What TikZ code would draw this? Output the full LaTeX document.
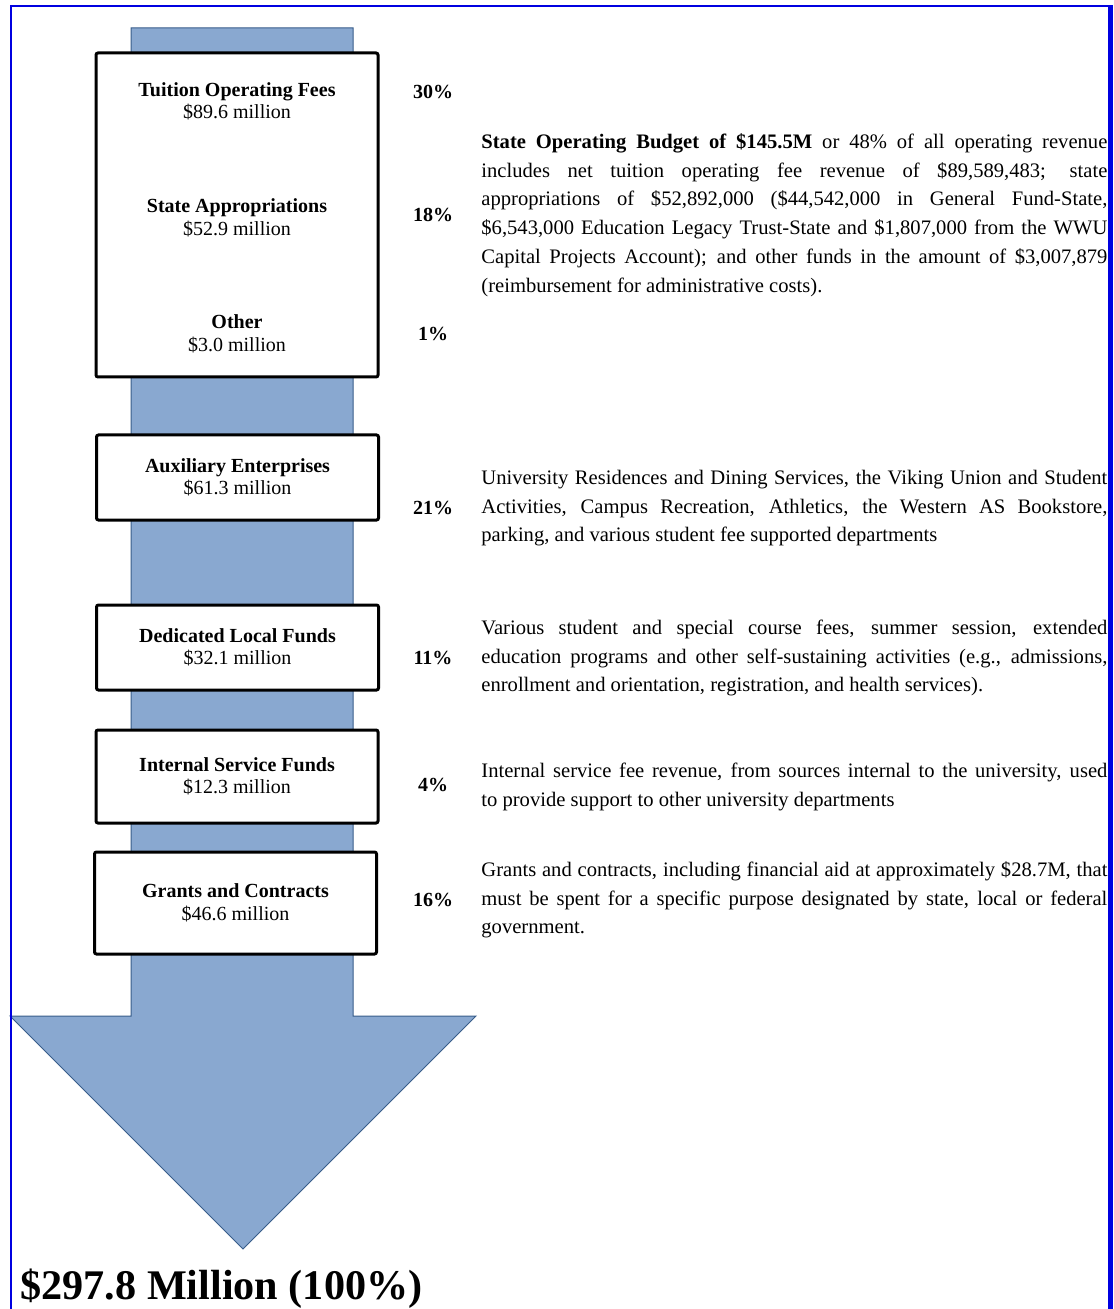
\documentclass[tikz,border=0pt]{standalone}
\usepackage{fontspec}
\setmainfont{Liberation Serif}
\usetikzlibrary{positioning}
\definecolor{frameblue}{RGB}{0,0,224}
\definecolor{flowfill}{RGB}{137,168,208}
\definecolor{flowline}{RGB}{56,93,138}
\newcommand{\notefont}{\fontsize{10.3}{14.4}\selectfont}
\newcommand{\labelfont}{\fontsize{10}{11.25}\selectfont}
\hyphenpenalty=10000
\exhyphenpenalty=10000

\begin{document}
\begin{tikzpicture}[x=0.5pt,y=-0.5pt,
	fund/.style={draw,line width=1.5pt,fill=white,rounded corners=1pt,inner sep=0pt,minimum width=141pt,align=center,font=\labelfont},
	amount/.style={inner sep=0pt,align=center,font=\labelfont},
	share/.style={inner sep=0pt,font=\labelfont\bfseries},
	note/.style={anchor=north west,inner sep=0pt,text width=313pt,align=justify,font=\notefont}]
	\useasboundingbox (0,0) rectangle (1113,1309);
	% the big arrow
	\draw[fill=flowfill,draw=flowline,line width=0.5pt] (131,28) -- (353,28) -- (353,1016) -- (476,1016)
		-- (243,1249) -- (10,1016) -- (131,1016) -- cycle;
	% state operating budget box
	\node[fund,minimum height=162pt] at (237,215) (state) {};
	\node[amount] at (237,101.5) (tuition) {\textbf{Tuition Operating Fees}\\\$89.6 million};
	\node[amount] at (237,218) (approp) {\textbf{State Appropriations}\\\$52.9 million};
	\node[amount] at (237,334) (other) {\textbf{Other}\\\$3.0 million};
	% other funds
	\node[fund,minimum height=42.5pt] at (237.5,477.5) (aux) {\textbf{Auxiliary Enterprises}\\\$61.3 million};
	\node[fund,minimum height=42.5pt] at (237.5,647.5) (local) {\textbf{Dedicated Local Funds}\\\$32.1 million};
	\node[fund,minimum height=46.5pt] at (237,776.5) (internal) {\textbf{Internal Service Funds}\\\$12.3 million};
	\node[fund,minimum height=51pt] at (235.5,903) (grants) {\textbf{Grants and Contracts}\\\$46.6 million};
	% percentages
	\node[share] at (433,92) (ptuition) {30\%};
	\node[share] at (433,215) (papprop) {18\%};
	\node[share] at (433,334) (pother) {1\%};
	\node[share] at (433,508) (paux) {21\%};
	\node[share] at (433,658) (plocal) {11\%};
	\node[share] at (433,785) (pinternal) {4\%};
	\node[share] at (433,900) (pgrants) {16\%};
	% descriptions
	\node[note] at (481,127.8) (nstate) {\strut\textbf{State Operating Budget of \$145.5M} or 48\% of all operating revenue\linebreak
		includes net tuition operating fee revenue of \$89,589,483; state\linebreak
		appropriations of \$52,892,000 (\$44,542,000 in General Fund-State,\linebreak
		\$6,543,000 Education Legacy Trust-State and \$1,807,000 from the WWU\linebreak
		Capital Projects Account); and other funds in the amount of \$3,007,879\linebreak
		(reimbursement for administrative costs).};
	\node[note] at (481,463.8) (naux) {\strut University Residences and Dining Services, the Viking Union and Student\linebreak
		Activities, Campus Recreation, Athletics, the Western AS Bookstore,\linebreak
		parking, and various student fee supported departments};
	\node[note] at (481,613.8) (nlocal) {\strut Various student and special course fees, summer session, extended\linebreak
		education programs and other self-sustaining activities (e.g., admissions,\linebreak
		enrollment and orientation, registration, and health services).};
	\node[note] at (481,756.8) (ninternal) {\strut Internal service fee revenue, from sources internal to the university, used\linebreak
		to provide support to other university departments};
	\node[note] at (481,855.8) (ngrants) {\strut Grants and contracts, including financial aid at approximately \$28.7M, that\linebreak
		must be spent for a specific purpose designated by state, local or federal\linebreak
		government.};
	% total
	\node[anchor=base west,inner sep=0pt,font=\fontsize{21.1}{24}\selectfont\bfseries] at (20,1299) (total) {\$297.8 Million (100\%)};
	% frame
	\draw[frameblue,line width=1pt] (10.5,1320) -- (10.5,6) -- (1110.5,6);
	\draw[frameblue,line width=2.5pt] (1110.5,5) -- (1110.5,1320);
\end{tikzpicture}
\end{document}
